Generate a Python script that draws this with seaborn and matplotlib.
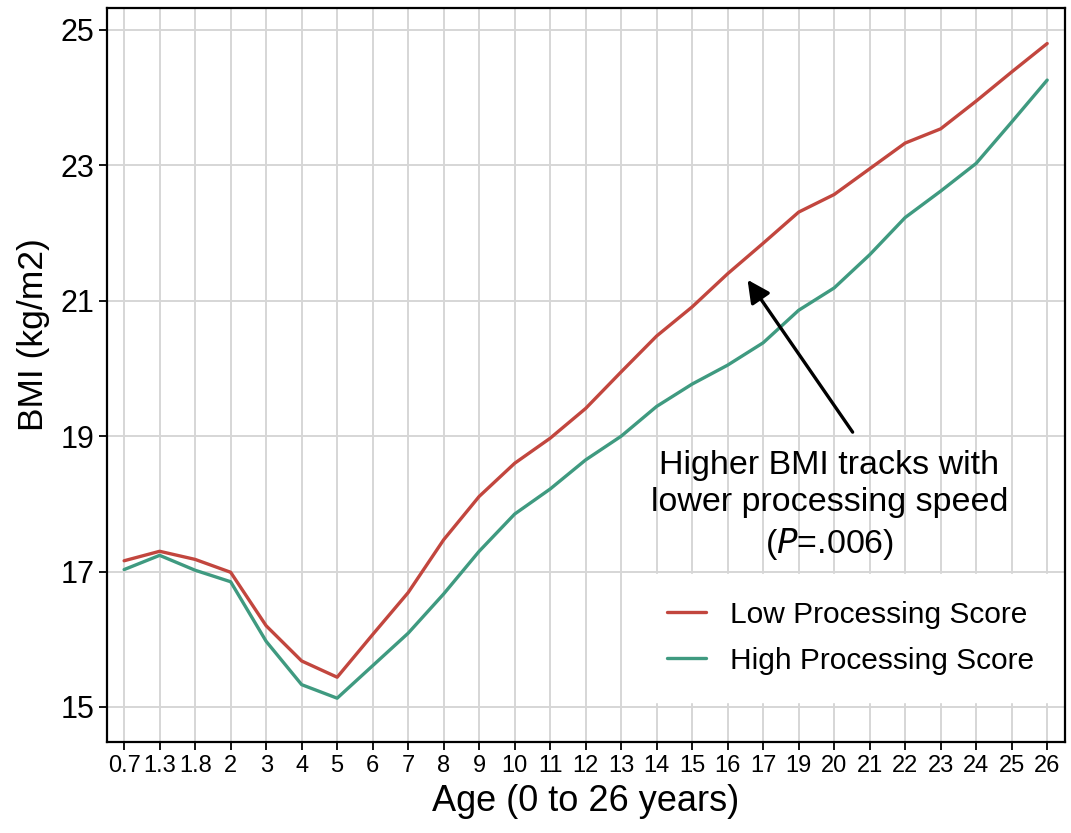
import matplotlib
matplotlib.use("Agg")
import matplotlib.pyplot as plt
import seaborn as sns
import pandas as pd

ages = ["0.7", "1.3", "1.8", "2", "3", "4", "5", "6", "7", "8", "9", "10", "11", "12",
        "13", "14", "15", "16", "17", "19", "20", "21", "22", "23", "24", "25", "26"]
low_score = [17.16, 17.30, 17.18, 16.99, 16.20, 15.68, 15.44, 16.07, 16.69, 17.47, 18.11,
             18.60, 18.97, 19.41, 19.95, 20.48, 20.91, 21.40, 21.85, 22.31, 22.57, 22.95,
             23.33, 23.54, 23.95, 24.38, 24.80]
high_score = [17.03, 17.24, 17.02, 16.85, 15.97, 15.33, 15.13, 15.61, 16.09, 16.67, 17.30,
              17.85, 18.22, 18.65, 19.00, 19.44, 19.77, 20.05, 20.38, 20.86, 21.19, 21.68,
              22.23, 22.62, 23.03, 23.64, 24.26]
series_names = ["Low Processing Score", "High Processing Score"]
y_ticks = [15, 17, 19, 21, 23, 25]

df = pd.concat([
    pd.DataFrame({"Age": ages, "BMI": low_score, "Group": series_names[0]}),
    pd.DataFrame({"Age": ages, "BMI": high_score, "Group": series_names[1]}),
])

sns.set_theme(style="whitegrid")
plt.rcParams["font.family"] = ["Liberation Sans", "DejaVu Sans"]
plt.rcParams["text.color"] = "black"

fig = plt.figure(figsize=(10.71, 8.33), dpi=100)
ax = fig.add_axes([0.100, 0.109, 0.894, 0.881])

palette = {series_names[0]: "#c2463e", series_names[1]: "#3f9a80"}
sns.lineplot(data=df, x="Age", y="BMI", hue="Group", palette=palette, ax=ax,
             linewidth=2.4, sort=False)

ax.set_xlim(-0.48, 26.49)
ax.set_ylim(14.48, 25.32)
ax.set_yticks(y_ticks)
ax.set_yticklabels([str(t) for t in y_ticks])

ax.grid(True, color="#d6d6d6", linewidth=1.4)
ax.set_axisbelow(True)
for s in ax.spines.values():
    s.set_color("black")
    s.set_linewidth(1.6)
ax.tick_params(axis="both", which="major", direction="out", length=6, width=1.3,
               color="black", bottom=True, left=True, pad=3)
ax.tick_params(axis="x", labelsize=17, labelcolor="black")
ax.tick_params(axis="y", labelsize=22, labelcolor="black")

ax.set_xlabel("Age (0 to 26 years)", fontsize=26, color="black", labelpad=5)
ax.set_ylabel("BMI (kg/m2)", fontsize=25.5, color="black")
ax.yaxis.set_label_coords(-0.06, 0.556)

leg = ax.legend(loc="lower right", fontsize=21.5, frameon=True, facecolor="white",
                edgecolor="white", framealpha=1, handlelength=1.3, handletextpad=0.8,
                labelspacing=0.6, borderpad=0.9, bbox_to_anchor=(1.012, 0.035))
for line in leg.get_lines():
    line.set_linewidth(2.4)
for t in leg.get_texts():
    t.set_color("black")

ax.annotate("", xy=(17.56, 21.31), xytext=(20.52, 19.06),
            arrowprops=dict(arrowstyle="-|>", color="black", lw=2.4,
                            mutation_scale=34, shrinkA=0, shrinkB=0))
ax.text(19.87, 18.80, "Higher BMI tracks with\nlower processing speed\n($\\it{P}$=.006)",
        fontsize=24.5, ha="center", va="top", color="black", linespacing=1.28)

fig.savefig("out.png", dpi=100)
